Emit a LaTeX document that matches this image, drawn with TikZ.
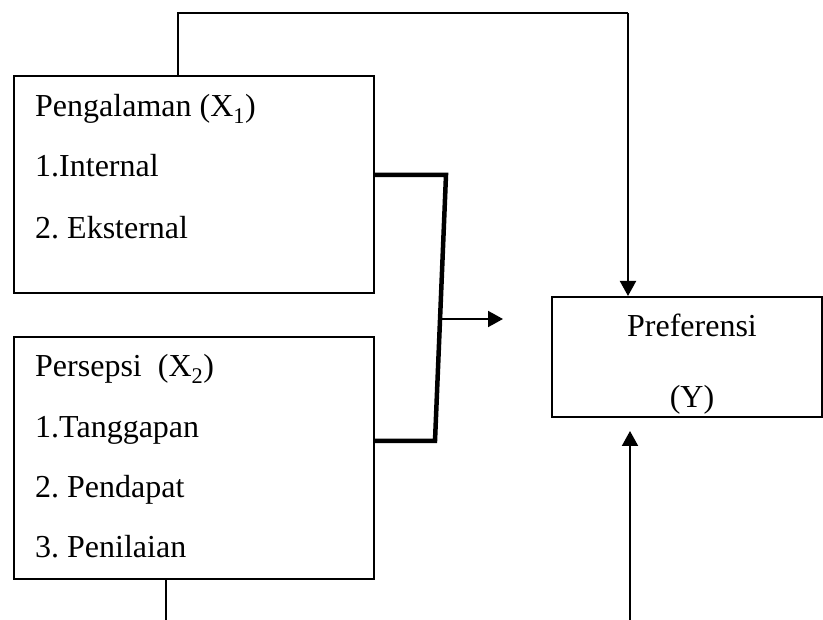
\documentclass[tikz,border=0pt]{standalone}
\usepackage{fontspec}
\setmainfont{Liberation Serif}
\usetikzlibrary{arrows.meta}
\frenchspacing
\begin{document}
\begin{tikzpicture}[x=1pt,y=-1pt,
  box/.style={draw,line width=2pt,rectangle,inner sep=0pt},
  txt/.style={anchor=base west,inner sep=0pt,font=\fontsize{32}{38}\selectfont},
  ctxt/.style={anchor=base,inner sep=0pt,font=\fontsize{32}{38}\selectfont},
  conn/.style={line width=2pt},
  arr/.style={line width=2pt,-{Triangle[length=15pt,width=16pt]}},
  bracket/.style={line width=4.5pt,line join=miter}]
\useasboundingbox (0,0) rectangle (823,620);
% boxes
\node[box,minimum width=360pt,minimum height=217pt] (x1) at (194,184.5) {};
\node[box,minimum width=360pt,minimum height=242pt] (x2) at (194,458) {};
\node[box,minimum width=270pt,minimum height=120pt] (y) at (687,357) {};
% texts
\node[txt] (t11) at (35,117) {Pengalaman (X\textsubscript{1})};
\node[txt] (t12) at (35,177) {1.Internal};
\node[txt] (t13) at (35,239) {2. Eksternal};
\node[txt] (t21) at (35,377) {Persepsi\ \ (X\textsubscript{2})};
\node[txt] (t22) at (35,438) {1.Tanggapan};
\node[txt] (t23) at (35,498) {2. Pendapat};
\node[txt] (t24) at (35,558) {3. Penilaian};
\node[ctxt] (ty1) at (692,337) {Preferensi};
\node[ctxt] (ty2) at (692,408) {(Y)};
% connectors
\coordinate (c1) at (178,13);
\coordinate (c2) at (628,13);
\draw[conn] (c1 |- x1.north) -- (c1) -- (c2);
\draw[arr] (c2) -- (c2 |- y.north);
\coordinate (b1) at (166,621);
\draw[conn] (b1 |- x2.south) -- (b1);
\coordinate (b2) at (630,621);
\draw[arr,shorten >=13pt] (b2) -- (b2 |- y.south);
\coordinate (k1) at (446,175);
\coordinate (k2) at (435,441);
\draw[bracket] (x1.east |- k1) -- (k1) -- (k2) -- (x2.east |- k2);
\coordinate (m1) at (441,319);
\coordinate (m2) at (503,319);
\draw[arr] (m1) -- (m2);
\end{tikzpicture}
\end{document}
